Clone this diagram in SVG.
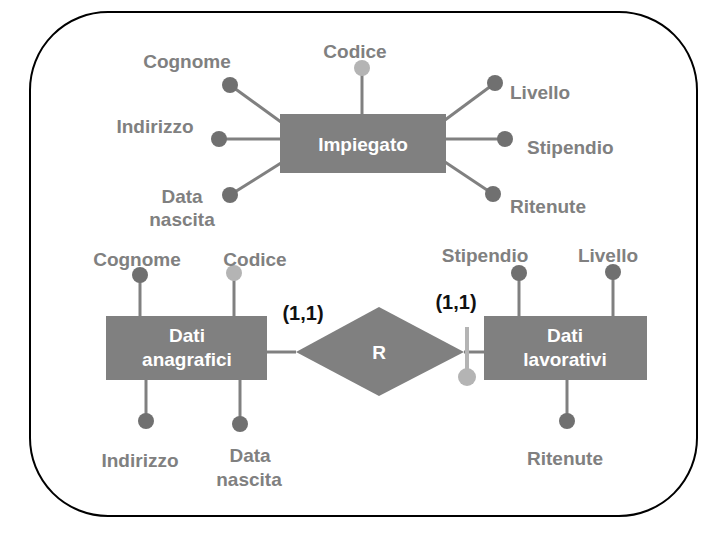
<svg xmlns="http://www.w3.org/2000/svg" width="720" height="540" viewBox="0 0 720 540">
<style>
.frame{fill:none;stroke:#000;stroke-width:2}
.ent{fill:#808080}
.rel{fill:#808080}
.ln{stroke:#808080;stroke-width:3;fill:none}
.lnk{stroke:#b4b4b4;stroke-width:4;fill:none}
.dot{fill:#707070}
.kdot{fill:#b4b4b4}
text{font-family:"Liberation Sans",Arial,sans-serif;font-size:19px;font-weight:bold}
.lbl{fill:#808080}
.in{fill:#fff;text-anchor:middle}
.card{fill:#111;font-size:20px}
.c{text-anchor:middle}
</style>
<rect class="frame" x="30" y="12" width="667" height="504" rx="78" ry="78"/>
<g id="connectors">
<line class="ln" x1="362" y1="68" x2="362" y2="114"/>
<line class="ln" x1="230" y1="85" x2="281" y2="122"/>
<line class="ln" x1="219" y1="139" x2="281" y2="139"/>
<line class="ln" x1="230" y1="195" x2="281" y2="163"/>
<line class="ln" x1="495" y1="83" x2="445" y2="120"/>
<line class="ln" x1="445" y1="139" x2="505" y2="139"/>
<line class="ln" x1="445" y1="162" x2="493" y2="194"/>
<line class="ln" x1="140" y1="275" x2="140" y2="316"/>
<line class="ln" x1="234" y1="273" x2="234" y2="316"/>
<line class="ln" x1="146" y1="380" x2="146" y2="421"/>
<line class="ln" x1="240" y1="380" x2="240" y2="424"/>
<line class="ln" x1="519" y1="273" x2="519" y2="316"/>
<line class="ln" x1="613" y1="272" x2="613" y2="316"/>
<line class="ln" x1="567" y1="380" x2="567" y2="421"/>
<line class="ln" x1="267" y1="352" x2="296" y2="352"/>
<line class="ln" x1="464" y1="352" x2="484" y2="352"/>
<line class="lnk" x1="467" y1="327" x2="467" y2="377"/>
</g>
<g id="impiegato">
<rect class="ent" x="280" y="114" width="166" height="59"/>
<text class="in" x="363" y="151">Impiegato</text>
</g>
<g id="imp-codice"><circle class="kdot" cx="362" cy="68" r="8"/><text class="lbl c" x="355" y="58">Codice</text></g>
<g id="imp-cognome"><circle class="dot" cx="230" cy="85" r="8"/><text class="lbl c" x="187" y="68">Cognome</text></g>
<g id="imp-indirizzo"><circle class="dot" cx="219" cy="139" r="8"/><text class="lbl c" x="155" y="133">Indirizzo</text></g>
<g id="imp-datanascita"><circle class="dot" cx="230" cy="195" r="8"/><text class="lbl c" x="182" y="203">Data</text><text class="lbl c" x="182" y="226">nascita</text></g>
<g id="imp-livello"><circle class="dot" cx="495" cy="83" r="8"/><text class="lbl" x="510" y="99">Livello</text></g>
<g id="imp-stipendio"><circle class="dot" cx="505" cy="139" r="8"/><text class="lbl" x="527" y="154">Stipendio</text></g>
<g id="imp-ritenute"><circle class="dot" cx="493" cy="194" r="8"/><text class="lbl" x="510" y="213">Ritenute</text></g>
<g id="dati-anagrafici">
<rect class="ent" x="106" y="316" width="161" height="64"/>
<text class="in" x="187" y="342">Dati</text>
<text class="in" x="187" y="366">anagrafici</text>
</g>
<g id="da-cognome"><circle class="dot" cx="140" cy="275" r="8"/><text class="lbl c" x="137" y="266">Cognome</text></g>
<g id="da-codice"><circle class="kdot" cx="234" cy="273" r="8"/><text class="lbl c" x="255" y="266">Codice</text></g>
<g id="da-indirizzo"><circle class="dot" cx="146" cy="421" r="8"/><text class="lbl c" x="140" y="467">Indirizzo</text></g>
<g id="da-datanascita"><circle class="dot" cx="240" cy="424" r="8"/><text class="lbl c" x="250" y="462">Data</text><text class="lbl c" x="249" y="486">nascita</text></g>
<g id="r">
<polygon class="rel" points="296,352 379,307 464,352 379,396"/>
<text class="in" x="379" y="359">R</text>
</g>
<g id="card-left"><text class="card c" x="303" y="320">(1,1)</text></g>
<g id="card-right"><text class="card c" x="456" y="309">(1,1)</text></g>
<g id="key-r"><circle class="kdot" cx="467" cy="377" r="9"/></g>
<g id="dati-lavorativi">
<rect class="ent" x="484" y="316" width="163" height="64"/>
<text class="in" x="565" y="342">Dati</text>
<text class="in" x="565" y="366">lavorativi</text>
</g>
<g id="dl-stipendio"><circle class="dot" cx="519" cy="273" r="8"/><text class="lbl c" x="485" y="262">Stipendio</text></g>
<g id="dl-livello"><circle class="dot" cx="613" cy="272" r="8"/><text class="lbl c" x="608" y="262">Livello</text></g>
<g id="dl-ritenute"><circle class="dot" cx="567" cy="421" r="8"/><text class="lbl c" x="565" y="465">Ritenute</text></g>
</svg>
